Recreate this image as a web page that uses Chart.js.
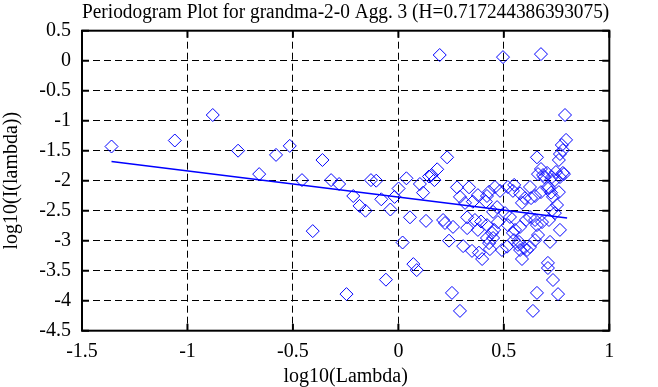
<!DOCTYPE html>
<html>
<head>
<meta charset="utf-8">
<script src="https://cdn.jsdelivr.net/npm/chart.js@4"></script>
<style>
  html, body { margin: 0; padding: 0; background: #fff; }
  #wrap { width: 658px; height: 387px; }
</style>
</head>
<body>
<div id="wrap"><canvas id="c" width="658" height="387"></canvas></div>
<script>
// ---- data ----
const chartTitle = 'Periodogram Plot for grandma-2-0 Agg. 3 (H=0.717244386393075)';
const xAxisTitle = 'log10(Lambda)';
const yAxisTitle = 'log10(I(lambda))';
const xTickLabels = ['-1.5', '-1', '-0.5', '0', '0.5', '1'];
const yTickLabels = ['0.5', '0', '-0.5', '-1', '-1.5', '-2', '-2.5', '-3', '-3.5', '-4', '-4.5'];

const pointX = [
  -1.36, -1.06, -0.88, -0.76, -0.66, -0.58, -0.515, -0.457, -0.406, -0.36,
  -0.319, -0.281, -0.246, -0.214, -0.184, -0.156, -0.13, -0.105, -0.081, -0.059,
  -0.038, -0.018, 0.001, 0.02, 0.038, 0.055, 0.071, 0.087, 0.102, 0.117,
  0.131, 0.145, 0.158, 0.171, 0.184, 0.196,
  0.212, 0.221, 0.231, 0.240, 0.254, 0.259, 0.278, 0.292, 0.292, 0.307,
  0.316, 0.326, 0.326, 0.335, 0.349, 0.363, 0.377, 0.377, 0.397, 0.420,
  0.420, 0.420, 0.434, 0.444, 0.449, 0.449, 0.458, 0.468, 0.472, 0.482,
  0.491, 0.496, 0.506, 0.519, 0.519, 0.529, 0.543, 0.543, 0.548, 0.553,
  0.567, 0.577, 0.577, 0.577, 0.586, 0.586, 0.600, 0.605, 0.610, 0.624,
  0.624, 0.624, 0.638, 0.648, 0.648, 0.648, 0.657, 0.657, 0.662, 0.662,
  0.676, 0.676, 0.676, 0.681, 0.686, 0.691, 0.705, 0.705, 0.709, 0.709,
  0.719, 0.728, 0.728, 0.733, 0.733, 0.742, 0.742, 0.752, 0.757, 0.761,
  0.766, 0.766, 0.766, 0.775, 0.780, 0.780, 0.785, 0.790, 0.795,
  0.714, 0.761, 0.747, 0.549, 0.629, 0.724, 0.714, 0.657, 0.572, 0.515,
  0.596, 0.430, 0.415, 0.353, 0.392, 0.454, 0.382, 0.430
];
const pointY = [
  -1.43, -1.33, -0.905, -1.50, -1.89, -1.57, -1.42, -1.99, -2.84, -1.655,
  -1.99, -2.055, -3.89, -2.255, -2.42, -2.50, -1.99, -2.0, -2.31, -3.65,
  -2.48, -2.27, -2.13, -3.03, -1.96, -2.61, -3.39, -3.49, -2.055, -2.2,
  -2.67, -1.93, -1.905, -1.99, -1.81, 0.095,
  -2.655, -2.705, -1.61, -3.0, -3.87, -2.77, -2.11, -2.27, -4.17, -3.09,
  -2.37, -2.61, -2.79, -2.11, -3.17, -2.655, -2.24, -2.82, -3.305, -2.255,
  -2.74, -2.955, -3.14, -2.87, -2.955, -2.52, -2.105, -2.44, -2.69, -2.17,
  -3.155, 0.06, -2.54, -2.105, -2.74, -2.605, -2.17, -2.87, -2.99, -2.82,
  -3.07, -2.21, -2.77, -3.155, -2.37, -3.305, -2.29, -2.655, -3.155, -2.105,
  -2.605, -3.105, -4.17, -2.255, -2.655, -2.99, -1.61, -3.87, -1.89, -2.905,
  0.11, -1.805, -2.19, -2.69, -1.905, -1.94, -1.87, -2.12, -3.37, -3.455,
  -3.02, -1.94, -2.49, -2.27, -3.655, -1.99, -2.54, -2.405, -3.89, -1.655,
  -1.555, -1.94, -2.82, -1.405, -1.49, -1.87, -1.89, -0.905, -1.32,
  -2.12, -2.19, -1.855, -2.07, -2.29, -2.2, -2.655, -2.74, -3.02, -3.1,
  -3.12, -2.185, -2.35, -2.35, -2.68, -2.82, -3.2, -3.04
];

// fitted regression line (end points)
const fitX = [-1.36, 0.80];
const fitY = [-1.68, -2.62];

// ---- build chart ----
const scatterData = pointX.map((x, i) => ({ x: x, y: pointY[i] }));
const lineData = fitX.map((x, i) => ({ x: x, y: fitY[i] }));

const SERIF = '"Liberation Serif", "Times New Roman", serif';

const framePlugin = {
  id: 'frame',
  afterDatasetsDraw(chart) {
    const { ctx, chartArea: a, scales } = chart;
    const xs = scales.x, ys = scales.y;
    const L = 7;
    ctx.save();
    ctx.strokeStyle = '#000';
    ctx.lineWidth = 2;
    ctx.setLineDash([]);
    ctx.strokeRect(a.left, a.top, a.right - a.left, a.bottom - a.top);
    ctx.beginPath();
    xs.ticks.forEach(t => {
      const p = xs.getPixelForValue(t.value);
      ctx.moveTo(p, a.bottom); ctx.lineTo(p, a.bottom - L);
      ctx.moveTo(p, a.top); ctx.lineTo(p, a.top + L);
    });
    ys.ticks.forEach(t => {
      const p = ys.getPixelForValue(t.value);
      ctx.moveTo(a.left, p); ctx.lineTo(a.left + L, p);
      ctx.moveTo(a.right, p); ctx.lineTo(a.right - L, p);
    });
    ctx.stroke();
    ctx.restore();
  }
};

new Chart(document.getElementById('c'), {
  type: 'scatter',
  data: {
    datasets: [
      {
        type: 'line',
        data: lineData,
        borderColor: '#0000ff',
        borderWidth: 1.5,
        pointRadius: 0,
        fill: false,
        tension: 0,
        order: 1
      },
      {
        type: 'scatter',
        data: scatterData,
        pointStyle: 'rectRot',
        pointRadius: 6.5,
        pointBorderWidth: 1,
        borderColor: '#0000ff',
        backgroundColor: 'rgba(0,0,0,0)',
        pointBackgroundColor: 'rgba(0,0,0,0)',
        order: 2
      }
    ]
  },
  options: {
    responsive: false,
    animation: false,
    events: [],
    layout: { padding: { left: 0, right: 48.7, top: 0, bottom: 0 } },
    plugins: {
      legend: { display: false },
      tooltip: { enabled: false },
      title: {
        display: true,
        text: chartTitle,
        fullSize: false,
        color: '#000',
        font: { family: SERIF, size: 20, weight: 'normal', lineHeight: 1.2 },
        padding: { top: 1, bottom: 5.7 }
      }
    },
    scales: {
      x: {
        type: 'linear',
        min: -1.5, max: 1,
        afterFit(s) { s.height = 56.3; },
        afterBuildTicks(s) { s.ticks = xTickLabels.map(v => ({ value: parseFloat(v) })); },
        ticks: {
          color: '#000',
          padding: 9,
          font: { family: SERIF, size: 20 },
          callback: (v, i) => xTickLabels[i]
        },
        grid: { display: true, color: '#000', lineWidth: 1, drawTicks: false },
        border: { display: false, dash: [7, 4] },
        title: {
          display: true, text: xAxisTitle, color: '#000',
          font: { family: SERIF, size: 20, lineHeight: 1.05 },
          padding: { top: 0, bottom: 0 }
        }
      },
      y: {
        type: 'linear',
        min: -4.5, max: 0.5,
        afterFit(s) { s.width = 82; },
        afterBuildTicks(s) { s.ticks = yTickLabels.map(v => ({ value: parseFloat(v) })); },
        ticks: {
          color: '#000',
          padding: 11,
          font: { family: SERIF, size: 20 },
          callback: (v, i) => yTickLabels[i]
        },
        grid: { display: true, color: '#000', lineWidth: 1, drawTicks: false },
        border: { display: false, dash: [7, 4] },
        title: {
          display: true, text: yAxisTitle, color: '#000',
          font: { family: SERIF, size: 20, lineHeight: 1.2 },
          padding: { top: 0, bottom: 0 }
        }
      }
    }
  },
  plugins: [framePlugin]
});
</script>
</body>
</html>
